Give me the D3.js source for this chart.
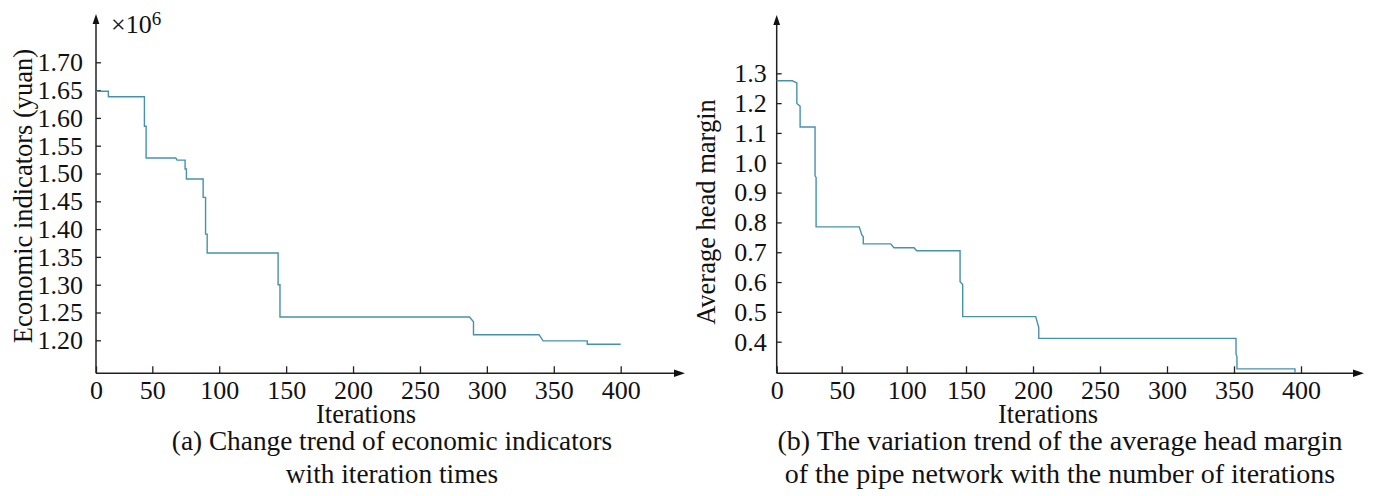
<!DOCTYPE html>
<html>
<head>
<meta charset="utf-8">
<script src="https://cdn.jsdelivr.net/npm/d3@7"></script>
<style>
  body { margin: 0; background: #fff; }
  text { font-family: "Liberation Serif", "Times New Roman", serif; fill: #111; }
</style>
</head>
<body>
<svg id="chart"></svg>
<script>
var W = 1378, H = 496;

// x axis: iterations
var iterTicks = [0, 50, 100, 150, 200, 250, 300, 350, 400];

// (a) economic indicators, in 10^6 yuan
var costTicks = [1.20, 1.25, 1.30, 1.35, 1.40, 1.45, 1.50, 1.55, 1.60, 1.65, 1.70];
var costIter = [0, 11, 11, 43, 43, 44.5, 44.5, 67.5, 68.5, 74.5, 74.5, 75.5, 75.5, 88, 88, 89.8, 89.8, 91, 91,
                144, 144, 145.4, 145.4, 287, 290, 290, 339, 342, 375, 375, 400];
var costValue = [1.648, 1.648, 1.638, 1.638, 1.585, 1.585, 1.528, 1.528, 1.524, 1.524, 1.508, 1.508, 1.490, 1.490,
                 1.457, 1.457, 1.391, 1.391, 1.357, 1.357, 1.300, 1.300, 1.242, 1.242, 1.2335, 1.210, 1.210,
                 1.199, 1.199, 1.193, 1.193];

// (b) average head margin
var headTicks = [0.4, 0.5, 0.6, 0.7, 0.8, 0.9, 1.0, 1.1, 1.2, 1.3];
var headIter = [0, 12, 15.5, 15.5, 18, 18, 29.5, 29.5, 30.3, 30.3, 63.5, 65.5, 66.6, 66.6, 87.7, 90.2, 106.2,
                108.4, 145, 145, 147.2, 147.2, 202, 204.3, 204.3, 351.5, 351.5, 352.2, 352.2, 395.5, 395.5];
var headValue = [1.275, 1.275, 1.268, 1.199, 1.190, 1.120, 1.120, 0.956, 0.951, 0.785, 0.785, 0.758, 0.752,
                 0.728, 0.728, 0.715, 0.715, 0.705, 0.705, 0.601, 0.592, 0.484, 0.484, 0.447, 0.411, 0.411,
                 0.359, 0.350, 0.309, 0.309, 0.295];

var lineColor = "#4592aa";

var svg = d3.select("#chart")
    .attr("width", W)
    .attr("height", H);

svg.append("rect").attr("width", W).attr("height", H).attr("fill", "#fff");

function drawPanel(p) {
    var g = svg.append("g");
    var x0 = p.x.range()[0];
    var y0 = p.axisY;

    // axes lines + arrows
    g.append("line")
        .attr("x1", x0).attr("y1", y0).attr("x2", p.arrowX - 8).attr("y2", y0)
        .attr("stroke", "#222").attr("stroke-width", 1.5);
    g.append("line")
        .attr("x1", x0).attr("y1", y0).attr("x2", x0).attr("y2", p.arrowY + 8)
        .attr("stroke", "#222").attr("stroke-width", 1.5);
    g.append("path")
        .attr("d", "M" + p.arrowX + "," + y0 + "L" + (p.arrowX - 11) + "," + (y0 - 3.7) + "L" + (p.arrowX - 11) + "," + (y0 + 3.7) + "Z")
        .attr("fill", "#111");
    g.append("path")
        .attr("d", "M" + x0 + "," + p.arrowY + "L" + (x0 - 3.4) + "," + (p.arrowY + 10) + "L" + (x0 + 3.4) + "," + (p.arrowY + 10) + "Z")
        .attr("fill", "#111");

    var xAxis = d3.axisBottom(p.x)
        .tickValues(iterTicks)
        .tickSize(-7)
        .tickPadding(7)
        .tickFormat(d3.format("d"));
    var gx = g.append("g")
        .attr("transform", "translate(0," + y0 + ")")
        .call(xAxis);
    gx.select(".domain").remove();
    gx.selectAll(".tick line").attr("stroke", "#222").attr("stroke-width", 1.3);
    gx.selectAll(".tick text").attr("font-size", 26).attr("fill", "#111");

    var yAxis = d3.axisLeft(p.y)
        .tickValues(p.yTicks)
        .tickSize(-5)
        .tickPadding(p.yPad)
        .tickFormat(d3.format(p.yFormat));
    var gy = g.append("g")
        .attr("transform", "translate(" + x0 + ",0)")
        .call(yAxis);
    gy.select(".domain").remove();
    gy.selectAll(".tick line").attr("stroke", "#222").attr("stroke-width", 1.3);
    gy.selectAll(".tick text").attr("font-size", 26).attr("fill", "#111");

    // the series
    var pts = p.iter.map(function(d, i) { return [d, p.values[i]]; });
    var line = d3.line()
        .x(function(d) { return p.x(d[0]); })
        .y(function(d) { return p.y(d[1]); });
    g.append("path")
        .datum(pts)
        .attr("d", line)
        .attr("fill", "none")
        .attr("stroke", lineColor)
        .attr("stroke-width", 1.4);

    // titles
    g.append("text")
        .attr("transform", "translate(" + p.yTitleX + "," + p.yTitleY + ") rotate(-90)")
        .attr("text-anchor", "middle")
        .attr("font-size", 26.5)
        .text(p.yTitle);
    g.append("text")
        .attr("x", p.xTitleX).attr("y", 423)
        .attr("text-anchor", "middle")
        .attr("font-size", 26.5)
        .text("Iterations");

    g.selectAll(".caption")
        .data(p.caption)
        .enter()
        .append("text")
        .attr("class", "caption")
        .attr("x", p.captionX)
        .attr("y", function(d, i) { return 450 + i * 33; })
        .attr("text-anchor", "middle")
        .attr("font-size", p.captionSize)
        .text(function(d) { return d; });
}

drawPanel({
    x: d3.scaleLinear().domain([0, 50, 400]).range([96, 152.3, 620.7]),
    y: d3.scaleLinear().domain([1.20, 1.70]).range([340.3, 62.3]),
    axisY: 373.3,
    arrowX: 685,
    arrowY: 14,
    yTicks: costTicks,
    yFormat: ".2f",
    yPad: 13,
    iter: costIter,
    values: costValue,
    yTitle: "Economic indicators (yuan)",
    yTitleX: 32,
    yTitleY: 196,
    xTitleX: 366,
    captionX: 392,
    captionSize: 27.3,
    caption: ["(a) Change trend of economic indicators", "with iteration times"]
});

drawPanel({
    x: d3.scaleLinear().domain([0, 100, 150, 400]).range([776.7, 906.7, 966, 1301]),
    y: d3.scaleLinear().domain([0.4, 1.3]).range([341.7, 73.3]),
    axisY: 373.3,
    arrowX: 1364,
    arrowY: 15,
    yTicks: headTicks,
    yFormat: ".1f",
    yPad: 10,
    iter: headIter,
    values: headValue,
    yTitle: "Average head margin",
    yTitleX: 715,
    yTitleY: 212,
    xTitleX: 1048,
    captionX: 1060,
    captionSize: 28,
    caption: ["(b) The variation trend of the average head margin", "of the pipe network with the number of iterations"]
});

// exponent label of panel (a)
var expo = svg.append("text")
    .attr("x", 111)
    .attr("y", 33)
    .attr("font-size", 26)
    .text("×10");
expo.append("tspan")
    .attr("dy", -8)
    .attr("font-size", 19)
    .text("6");
</script>
</body>
</html>
